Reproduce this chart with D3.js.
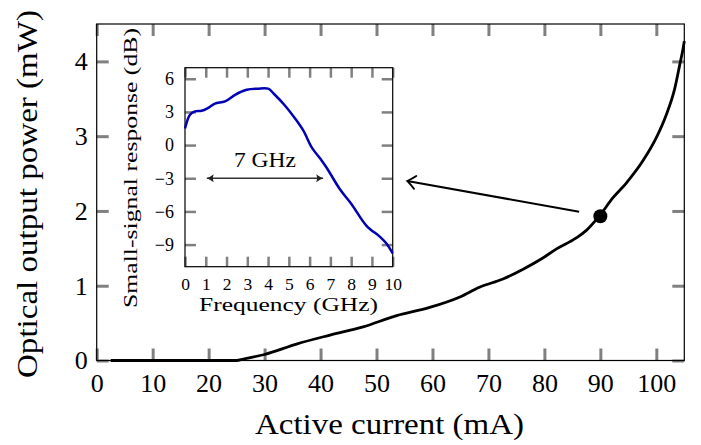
<!DOCTYPE html>
<meta charset="utf-8">
<style>

body {
  margin: 0;
  background: #fff;
}

svg {
  display: block;
  font-family: "Liberation Serif", "Times New Roman", serif;
}

.frame {
  fill: none;
  stroke: #000;
  stroke-width: 1.2px;
}

.title {
  fill: #000;
}

</style>

<svg width="701" height="445"></svg>
<script src="https://cdn.jsdelivr.net/npm/d3@7/dist/d3.min.js"></script>
<script>

// L-I curve
var currentMA = [2.5, 10, 20, 25, 26.2, 30, 35.7, 41.7, 47.6, 53.6, 59.5, 64.9, 68.4, 72.6, 76.2, 79.5, 82.1, 85.7, 87.5, 89.9, 92.3, 94.6, 97.6, 100, 101.8, 103.3, 104.2, 104.8, 105];
var powerMW =   [0,   0,  0,  0,  0.02, 0.08, 0.22, 0.34, 0.45, 0.60, 0.71, 0.85, 0.98, 1.09, 1.22, 1.36, 1.49, 1.64, 1.74, 1.94, 2.18, 2.37, 2.67, 2.98, 3.29, 3.64, 3.96, 4.18, 4.27];

// small-signal response of the inset
var freqGHz =    [0,   0.24, 0.48, 0.8, 1.1,  1.44, 1.93, 2.41, 2.97, 3.5, 4.0, 4.3, 4.8, 5.3, 5.7, 6.1,  6.5,  6.82,  7.46, 8.02,  8.74, 9.39, 9.7,  10];
var responseDB = [1.5, 2.75, 3.05, 3.1, 3.35, 3.75, 3.95, 4.55, 5.0,  5.1, 5.1, 4.6, 3.6, 2.4, 1.3, -0.2, -1.2, -2.05, -4.0, -5.35, -7.3, -8.3, -8.9, -9.8];

var xTicks = [0, 10, 20, 30, 40, 50, 60, 70, 80, 90, 100];
var yTicks = [0, 1, 2, 3, 4];
var fTicks = [0, 1, 2, 3, 4, 5, 6, 7, 8, 9, 10];
var rTicks = [-9, -6, -3, 0, 3, 6];

var operatingPoint = [90, 1.93];
var pointerFrom = [86.2, 1.99];
var pointerTo = [55.5, 2.40];
var bandStart = 1.05, bandEnd = 6.65, bandLevel = -3, bandLabel = "7 GHz";

var svg = d3.select("svg");

var x = d3.scaleLinear().domain([0, 105]).range([96.7, 684.3]);
var y = d3.scaleLinear().domain([0, 4.5]).range([360.5, 24]);

function styleAxis(g, size) {
  g.select(".domain").remove();
  g.attr("font-family", null).attr("font-size", size);
  g.selectAll(".tick line").attr("stroke", "#808080").attr("stroke-width", 3);
  g.selectAll(".tick text").attr("fill", "#000");
}

var plain = function(d) { return String(d).replace("-", "\u2212"); };

var defs = svg.append("defs");
defs.append("marker")
    .attr("id", "openhead")
    .attr("viewBox", "-10 -8 12 16")
    .attr("markerWidth", 12).attr("markerHeight", 16)
    .attr("markerUnits", "userSpaceOnUse")
    .attr("orient", "auto")
  .append("path")
    .attr("d", "M-8,-6.5 Q-2,-1.2 0,0 Q-2,1.2 -8,6.5")
    .attr("fill", "none").attr("stroke", "#000").attr("stroke-width", 1.8)
    .attr("stroke-linecap", "round");
defs.append("marker")
    .attr("id", "latexhead")
    .attr("viewBox", "-9 -5 10 10")
    .attr("markerWidth", 10).attr("markerHeight", 10)
    .attr("markerUnits", "userSpaceOnUse")
    .attr("orient", "auto-start-reverse")
  .append("path")
    .attr("d", "M-7,-4 Q-2.5,-0.8 0,0 Q-2.5,0.8 -7,4 Q-5,0 -7,-4Z")
    .attr("fill", "#222");

// main axes, ticks pointing inwards on all four sides
svg.append("g")
    .attr("transform", "translate(0," + y(0) + ")")
    .call(d3.axisBottom(x).tickValues(xTicks).tickSize(-12).tickPadding(13).tickFormat(plain))
    .call(styleAxis, 26);
svg.append("g")
    .attr("transform", "translate(0," + y(4.5) + ")")
    .call(d3.axisTop(x).tickValues(xTicks).tickSize(-12).tickFormat(""))
    .call(styleAxis, 26);
svg.append("g")
    .attr("transform", "translate(" + x(0) + ",0)")
    .call(d3.axisLeft(y).tickValues(yTicks).tickSize(-12).tickPadding(9).tickFormat(plain))
    .call(styleAxis, 26);
svg.append("g")
    .attr("transform", "translate(" + x(105) + ",0)")
    .call(d3.axisRight(y).tickValues(yTicks).tickSize(-12).tickFormat(""))
    .call(styleAxis, 26);

svg.append("rect")
    .attr("class", "frame")
    .attr("x", x(0)).attr("y", y(4.5))
    .attr("width", x(105) - x(0)).attr("height", y(0) - y(4.5));

var li = d3.line()
    .x(function(d) { return x(d[0]); })
    .y(function(d) { return y(d[1]); })
    .curve(d3.curveMonotoneX);

svg.append("path")
    .datum(d3.zip(currentMA, powerMW))
    .attr("d", li)
    .attr("fill", "none")
    .attr("stroke", "#000")
    .attr("stroke-width", 2.8)
    .attr("stroke-linejoin", "round");

svg.append("line")
    .attr("x1", x(pointerFrom[0])).attr("y1", y(pointerFrom[1]))
    .attr("x2", x(pointerTo[0])).attr("y2", y(pointerTo[1]))
    .attr("stroke", "#000")
    .attr("stroke-width", 2)
    .attr("marker-end", "url(#openhead)");

svg.append("circle")
    .attr("cx", x(operatingPoint[0]))
    .attr("cy", y(operatingPoint[1]))
    .attr("r", 7)
    .attr("fill", "#000");

svg.append("text")
    .attr("class", "title")
    .attr("x", 389.5).attr("y", 434)
    .attr("text-anchor", "middle")
    .attr("font-size", 29)
    .attr("textLength", 269).attr("lengthAdjust", "spacingAndGlyphs")
    .text("Active current (mA)");

svg.append("text")
    .attr("class", "title")
    .attr("transform", "translate(36.5,194) rotate(-90)")
    .attr("text-anchor", "middle")
    .attr("font-size", 29)
    .attr("textLength", 368).attr("lengthAdjust", "spacingAndGlyphs")
    .text("Optical output power (mW)");

// inset
var inset = svg.append("g").attr("class", "inset");
var fx = d3.scaleLinear().domain([0, 10]).range([185, 392.7]);
var fy = d3.scaleLinear().domain([-11, 7]).range([266.7, 67.7]);

inset.append("rect")
    .attr("x", fx(0)).attr("y", fy(7))
    .attr("width", fx(10) - fx(0)).attr("height", fy(-11) - fy(7))
    .attr("fill", "#fff");

inset.append("g")
    .attr("transform", "translate(0," + fy(-11) + ")")
    .call(d3.axisBottom(fx).tickValues(fTicks).tickSize(-10).tickPadding(11).tickFormat(plain))
    .call(styleAxis, 17.5);
inset.append("g")
    .attr("transform", "translate(0," + fy(7) + ")")
    .call(d3.axisTop(fx).tickValues(fTicks).tickSize(-10).tickFormat(""))
    .call(styleAxis, 18);
inset.append("g")
    .attr("transform", "translate(" + fx(0) + ",0)")
    .call(d3.axisLeft(fy).tickValues(rTicks).tickSize(-11).tickPadding(11).tickFormat(plain))
    .call(styleAxis, 18);
inset.append("g")
    .attr("transform", "translate(" + fx(10) + ",0)")
    .call(d3.axisRight(fy).tickValues(rTicks).tickSize(-11).tickFormat(""))
    .call(styleAxis, 18);
inset.selectAll(".tick line").attr("stroke-width", 2.5);

inset.append("rect")
    .attr("class", "frame")
    .attr("x", fx(0)).attr("y", fy(7))
    .attr("width", fx(10) - fx(0)).attr("height", fy(-11) - fy(7));

var resp = d3.line()
    .x(function(d) { return fx(d[0]); })
    .y(function(d) { return fy(d[1]); })
    .curve(d3.curveCatmullRom);

inset.append("path")
    .datum(d3.zip(freqGHz, responseDB))
    .attr("d", resp)
    .attr("fill", "none")
    .attr("stroke", "#0000b4")
    .attr("stroke-width", 2.5)
    .attr("stroke-linejoin", "round");

inset.append("line")
    .attr("x1", fx(bandStart)).attr("y1", fy(bandLevel))
    .attr("x2", fx(bandEnd)).attr("y2", fy(bandLevel))
    .attr("stroke", "#333")
    .attr("stroke-width", 1.5)
    .attr("marker-start", "url(#latexhead)")
    .attr("marker-end", "url(#latexhead)");

inset.append("text")
    .attr("x", (fx(bandStart) + fx(bandEnd)) / 2)
    .attr("y", fy(bandLevel) - 11.6)
    .attr("text-anchor", "middle")
    .attr("font-size", 22)
    .attr("textLength", 62).attr("lengthAdjust", "spacingAndGlyphs")
    .text(bandLabel);

inset.append("text")
    .attr("class", "title")
    .attr("x", 288.5).attr("y", 311)
    .attr("text-anchor", "middle")
    .attr("font-size", 18.5)
    .attr("textLength", 179).attr("lengthAdjust", "spacingAndGlyphs")
    .text("Frequency (GHz)");

inset.append("text")
    .attr("class", "title")
    .attr("transform", "translate(136.5,168) rotate(-90)")
    .attr("text-anchor", "middle")
    .attr("font-size", 19)
    .attr("textLength", 280).attr("lengthAdjust", "spacingAndGlyphs")
    .text("Small-signal response (dB)");

</script>
